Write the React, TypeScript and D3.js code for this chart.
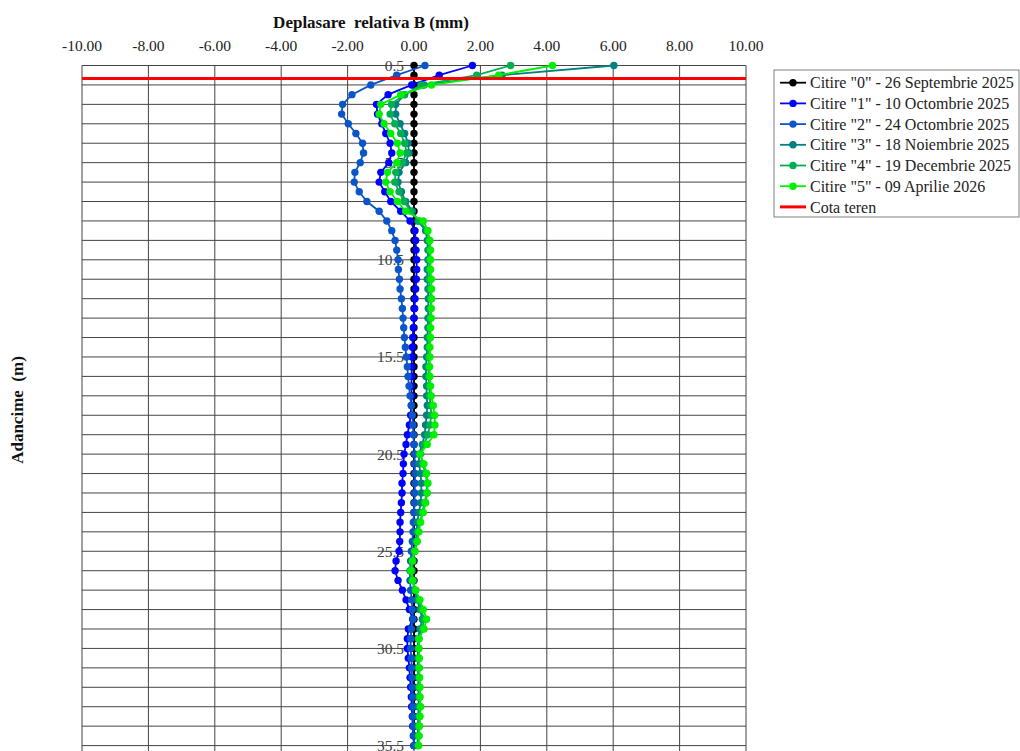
import * as d3 from 'd3';

// adancimi (m)
const depths = [
  0.5, 1, 1.5, 2, 2.5, 3, 3.5, 4, 4.5, 5, 5.5, 6, 6.5, 7, 7.5, 8, 8.5, 9, 9.5, 10,
  10.5, 11, 11.5, 12, 12.5, 13, 13.5, 14, 14.5, 15, 15.5, 16, 16.5, 17, 17.5, 18, 18.5, 19, 19.5, 20,
  20.5, 21, 21.5, 22, 22.5, 23, 23.5, 24, 24.5, 25, 25.5, 26, 26.5, 27, 27.5, 28, 28.5, 29, 29.5, 30,
  30.5, 31, 31.5, 32, 32.5, 33, 33.5, 34, 34.5, 35, 35.5,
];

const citire0 = [
  0, 0, 0, 0, 0, 0, 0, 0, 0, 0, 0, 0, 0, 0, 0, 0, 0, 0, 0, 0,
  0, 0, 0, 0, 0, 0, 0, 0, 0, 0, 0, 0, 0, 0, 0, 0, 0, 0, 0, 0,
  0, 0, 0, 0, 0, 0, 0, 0, 0, 0, 0, 0, 0, 0, 0, 0, 0, 0, 0, 0,
  0, 0, 0, 0, 0, 0, 0, 0, 0, 0, 0,
];

const citire1 = [
  1.76, 0.76, -0.07, -0.78, -1.13, -1.1, -0.97, -0.85, -0.72, -0.67, -0.76, -1.0, -1.05, -0.88, -0.7, -0.4, -0.12, 0.03, 0.05, 0.06,
  0.08, 0.08, 0.07, 0.05, 0.03, 0.02, 0.0, -0.02, -0.04, -0.05, -0.06, -0.07, -0.07, -0.08, -0.07, -0.08, -0.1, -0.14, -0.2, -0.24,
  -0.3, -0.32, -0.33, -0.36, -0.36, -0.38, -0.4, -0.42, -0.42, -0.43, -0.45, -0.54, -0.57, -0.48, -0.35, -0.24, -0.14, -0.04, -0.17, -0.2,
  -0.2, -0.17, -0.14, -0.12, -0.1, -0.08, -0.07, -0.05, -0.04, -0.02, 0.0,
];

const citire2 = [
  0.33, -0.52, -1.3, -1.87, -2.15, -2.18, -1.98, -1.75, -1.55, -1.52, -1.62, -1.78, -1.8, -1.65, -1.42, -1.05, -0.82, -0.67, -0.57, -0.52,
  -0.48, -0.47, -0.44, -0.42, -0.38, -0.35, -0.33, -0.31, -0.29, -0.26, -0.23, -0.2, -0.18, -0.15, -0.12, -0.08, -0.05, -0.03, -0.02, 0.0,
  0.02, 0.02, 0.03, 0.03, 0.02, 0.02, 0.0, -0.02, -0.03, -0.05, -0.08, -0.1, -0.12, -0.12, -0.1, -0.07, -0.05, -0.03, -0.08, -0.1,
  -0.1, -0.08, -0.07, -0.06, -0.05, -0.04, -0.03, -0.03, -0.02, -0.01, 0.0,
];

const citire3 = [
  6.02, 2.65, 0.3, -0.28, -0.55, -0.55, -0.42, -0.28, -0.18, -0.15, -0.25, -0.45, -0.48, -0.38, -0.25, -0.05, 0.12, 0.35, 0.4, 0.42,
  0.42, 0.4, 0.4, 0.42, 0.43, 0.43, 0.42, 0.42, 0.4, 0.4, 0.38, 0.36, 0.36, 0.38, 0.38, 0.4, 0.38, 0.35, 0.32, 0.25,
  0.15, 0.15, 0.2, 0.22, 0.22, 0.2, 0.15, 0.1, 0.08, 0.05, 0.0, -0.05, -0.08, -0.05, 0.02, 0.1, 0.18, 0.25, 0.18, 0.12,
  0.12, 0.12, 0.12, 0.13, 0.13, 0.14, 0.14, 0.13, 0.12, 0.12, 0.1,
];

const citire4 = [
  2.91, 1.89, 0.22, -0.3, -0.68, -0.72, -0.58, -0.4, -0.28, -0.22, -0.35, -0.55, -0.58, -0.45, -0.3, -0.1, 0.15, 0.4, 0.45, 0.46,
  0.47, 0.46, 0.46, 0.48, 0.5, 0.5, 0.48, 0.47, 0.46, 0.45, 0.45, 0.43, 0.44, 0.46, 0.47, 0.5, 0.52, 0.48, 0.42, 0.3,
  0.2, 0.25, 0.35, 0.4, 0.38, 0.32, 0.25, 0.18, 0.12, 0.08, 0.02, -0.03, -0.06, -0.02, 0.05, 0.15, 0.22, 0.3, 0.25, 0.15,
  0.14, 0.15, 0.15, 0.16, 0.16, 0.17, 0.18, 0.17, 0.16, 0.15, 0.13,
];

const citire5 = [
  4.17, 2.55, 0.53, -0.4, -1.0, -1.05, -0.9, -0.7, -0.5, -0.42, -0.52, -0.8, -0.85, -0.72, -0.5, -0.25, 0.28, 0.42, 0.48, 0.5,
  0.5, 0.5, 0.52, 0.53, 0.53, 0.52, 0.52, 0.5, 0.5, 0.48, 0.48, 0.47, 0.48, 0.5, 0.52, 0.58, 0.62, 0.63, 0.6, 0.4,
  0.18, 0.3, 0.38, 0.42, 0.4, 0.35, 0.28, 0.2, 0.15, 0.1, 0.03, -0.05, -0.1, -0.05, 0.05, 0.18, 0.28, 0.38, 0.3, 0.15,
  0.15, 0.16, 0.16, 0.17, 0.18, 0.18, 0.2, 0.18, 0.16, 0.15, 0.14,
];

const seriesNames = [
  'Citire "0" - 26 Septembrie 2025',
  'Citire "1" - 10 Octombrie 2025',
  'Citire "2" - 24 Octombrie 2025',
  'Citire "3" - 18 Noiembrie 2025',
  'Citire "4" - 19 Decembrie 2025',
  'Citire "5" - 09 Aprilie 2026',
];
const seriesColors = ['#000000', '#0000ff', '#0a55c8', '#008080', '#00b050', '#00f000'];
const seriesValues = [citire0, citire1, citire2, citire3, citire4, citire5];

const cotaTeren = 1.17;
const xTicks = [-10, -8, -6, -4, -2, 0, 2, 4, 6, 8, 10];
const yLabels = [0.5, 5.5, 10.5, 15.5, 20.5, 25.5, 30.5, 35.5];

const FONT = '"Liberation Serif", "Times New Roman", serif';

export default function App() {
  const width = 1020;
  const height = 751;

  const x = d3.scaleLinear().domain([-10, 10]).range([82, 746]);
  const y = d3.scaleLinear().domain([0.5, 36]).range([65.5, 755.3]);

  const hLines = d3.range(0.5, 36, 1);

  const line = d3
    .line<number>()
    .x((v) => x(v))
    .y((_, i) => y(depths[i]));

  const legendX = 774;
  const legendY = 70;
  const rowH = 20.7;

  return (
    <svg
      width={width}
      height={height}
      style={{ position: 'absolute', left: 0, top: 0, background: '#fff' }}
      fontFamily={FONT}
    >
      {/* grila */}
      {hLines.map((d) => (
        <line key={'h' + d} x1={x(-10)} x2={x(10)} y1={y(d)} y2={y(d)} stroke="#444" strokeWidth={1} />
      ))}
      {xTicks.map((t) => (
        <line key={'v' + t} x1={x(t)} x2={x(t)} y1={y(0.5)} y2={y(36)} stroke="#444" strokeWidth={1} />
      ))}

      {/* etichete axa Y */}
      {yLabels.map((d) => (
        <text key={'yl' + d} x={x(0) - 10} y={y(d)} dy="0.35em" textAnchor="end" fontSize={15.5} fill="#404040">
          {d}
        </text>
      ))}

      {/* etichete axa X */}
      {xTicks.map((t) => (
        <text key={'xl' + t} x={x(t)} y={51} textAnchor="middle" fontSize={15.5} fill="#222">
          {t.toFixed(2)}
        </text>
      ))}

      <text x={371} y={28} textAnchor="middle" fontSize={17} fontWeight="bold" fill="#111" style={{ whiteSpace: 'pre' }}>
        {'Deplasare  relativa B (mm)'}
      </text>
      <text
        transform={`translate(23,410) rotate(-90)`}
        textAnchor="middle"
        fontSize={17}
        fontWeight="bold"
        fill="#111"
        style={{ whiteSpace: 'pre' }}
      >
        {'Adancime  (m)'}
      </text>

      {/* serii */}
      {seriesValues.map((vals, si) => (
        <g key={'s' + si}>
          <path d={line(vals) || ''} fill="none" stroke={seriesColors[si]} strokeWidth={1.8} />
          {vals.map((v, i) => (
            <circle key={i} cx={x(v)} cy={y(depths[i])} r={3.7} fill={seriesColors[si]} />
          ))}
        </g>
      ))}

      {/* cota teren */}
      <line x1={x(-10)} x2={x(10)} y1={y(cotaTeren)} y2={y(cotaTeren)} stroke="#ff0000" strokeWidth={3} />

      {/* legenda */}
      <rect x={legendX} y={legendY} width={245} height={147} fill="#fff" stroke="#808080" strokeWidth={1} />
      {seriesNames.map((name, i) => {
        const cy = legendY + 12.7 + i * rowH;
        return (
          <g key={'lg' + i}>
            <line x1={legendX + 6} x2={legendX + 32} y1={cy} y2={cy} stroke={seriesColors[i]} strokeWidth={1.8} />
            <circle cx={legendX + 19} cy={cy} r={3.7} fill={seriesColors[i]} />
            <text x={legendX + 36} y={cy} dy="0.35em" fontSize={16} fill="#222">
              {name}
            </text>
          </g>
        );
      })}
      {(() => {
        const cy = legendY + 12.7 + 6 * rowH;
        return (
          <g>
            <line x1={legendX + 6} x2={legendX + 32} y1={cy} y2={cy} stroke="#ff0000" strokeWidth={3} />
            <text x={legendX + 36} y={cy} dy="0.35em" fontSize={16} fill="#222">
              Cota teren
            </text>
          </g>
        );
      })()}
    </svg>
  );
}
